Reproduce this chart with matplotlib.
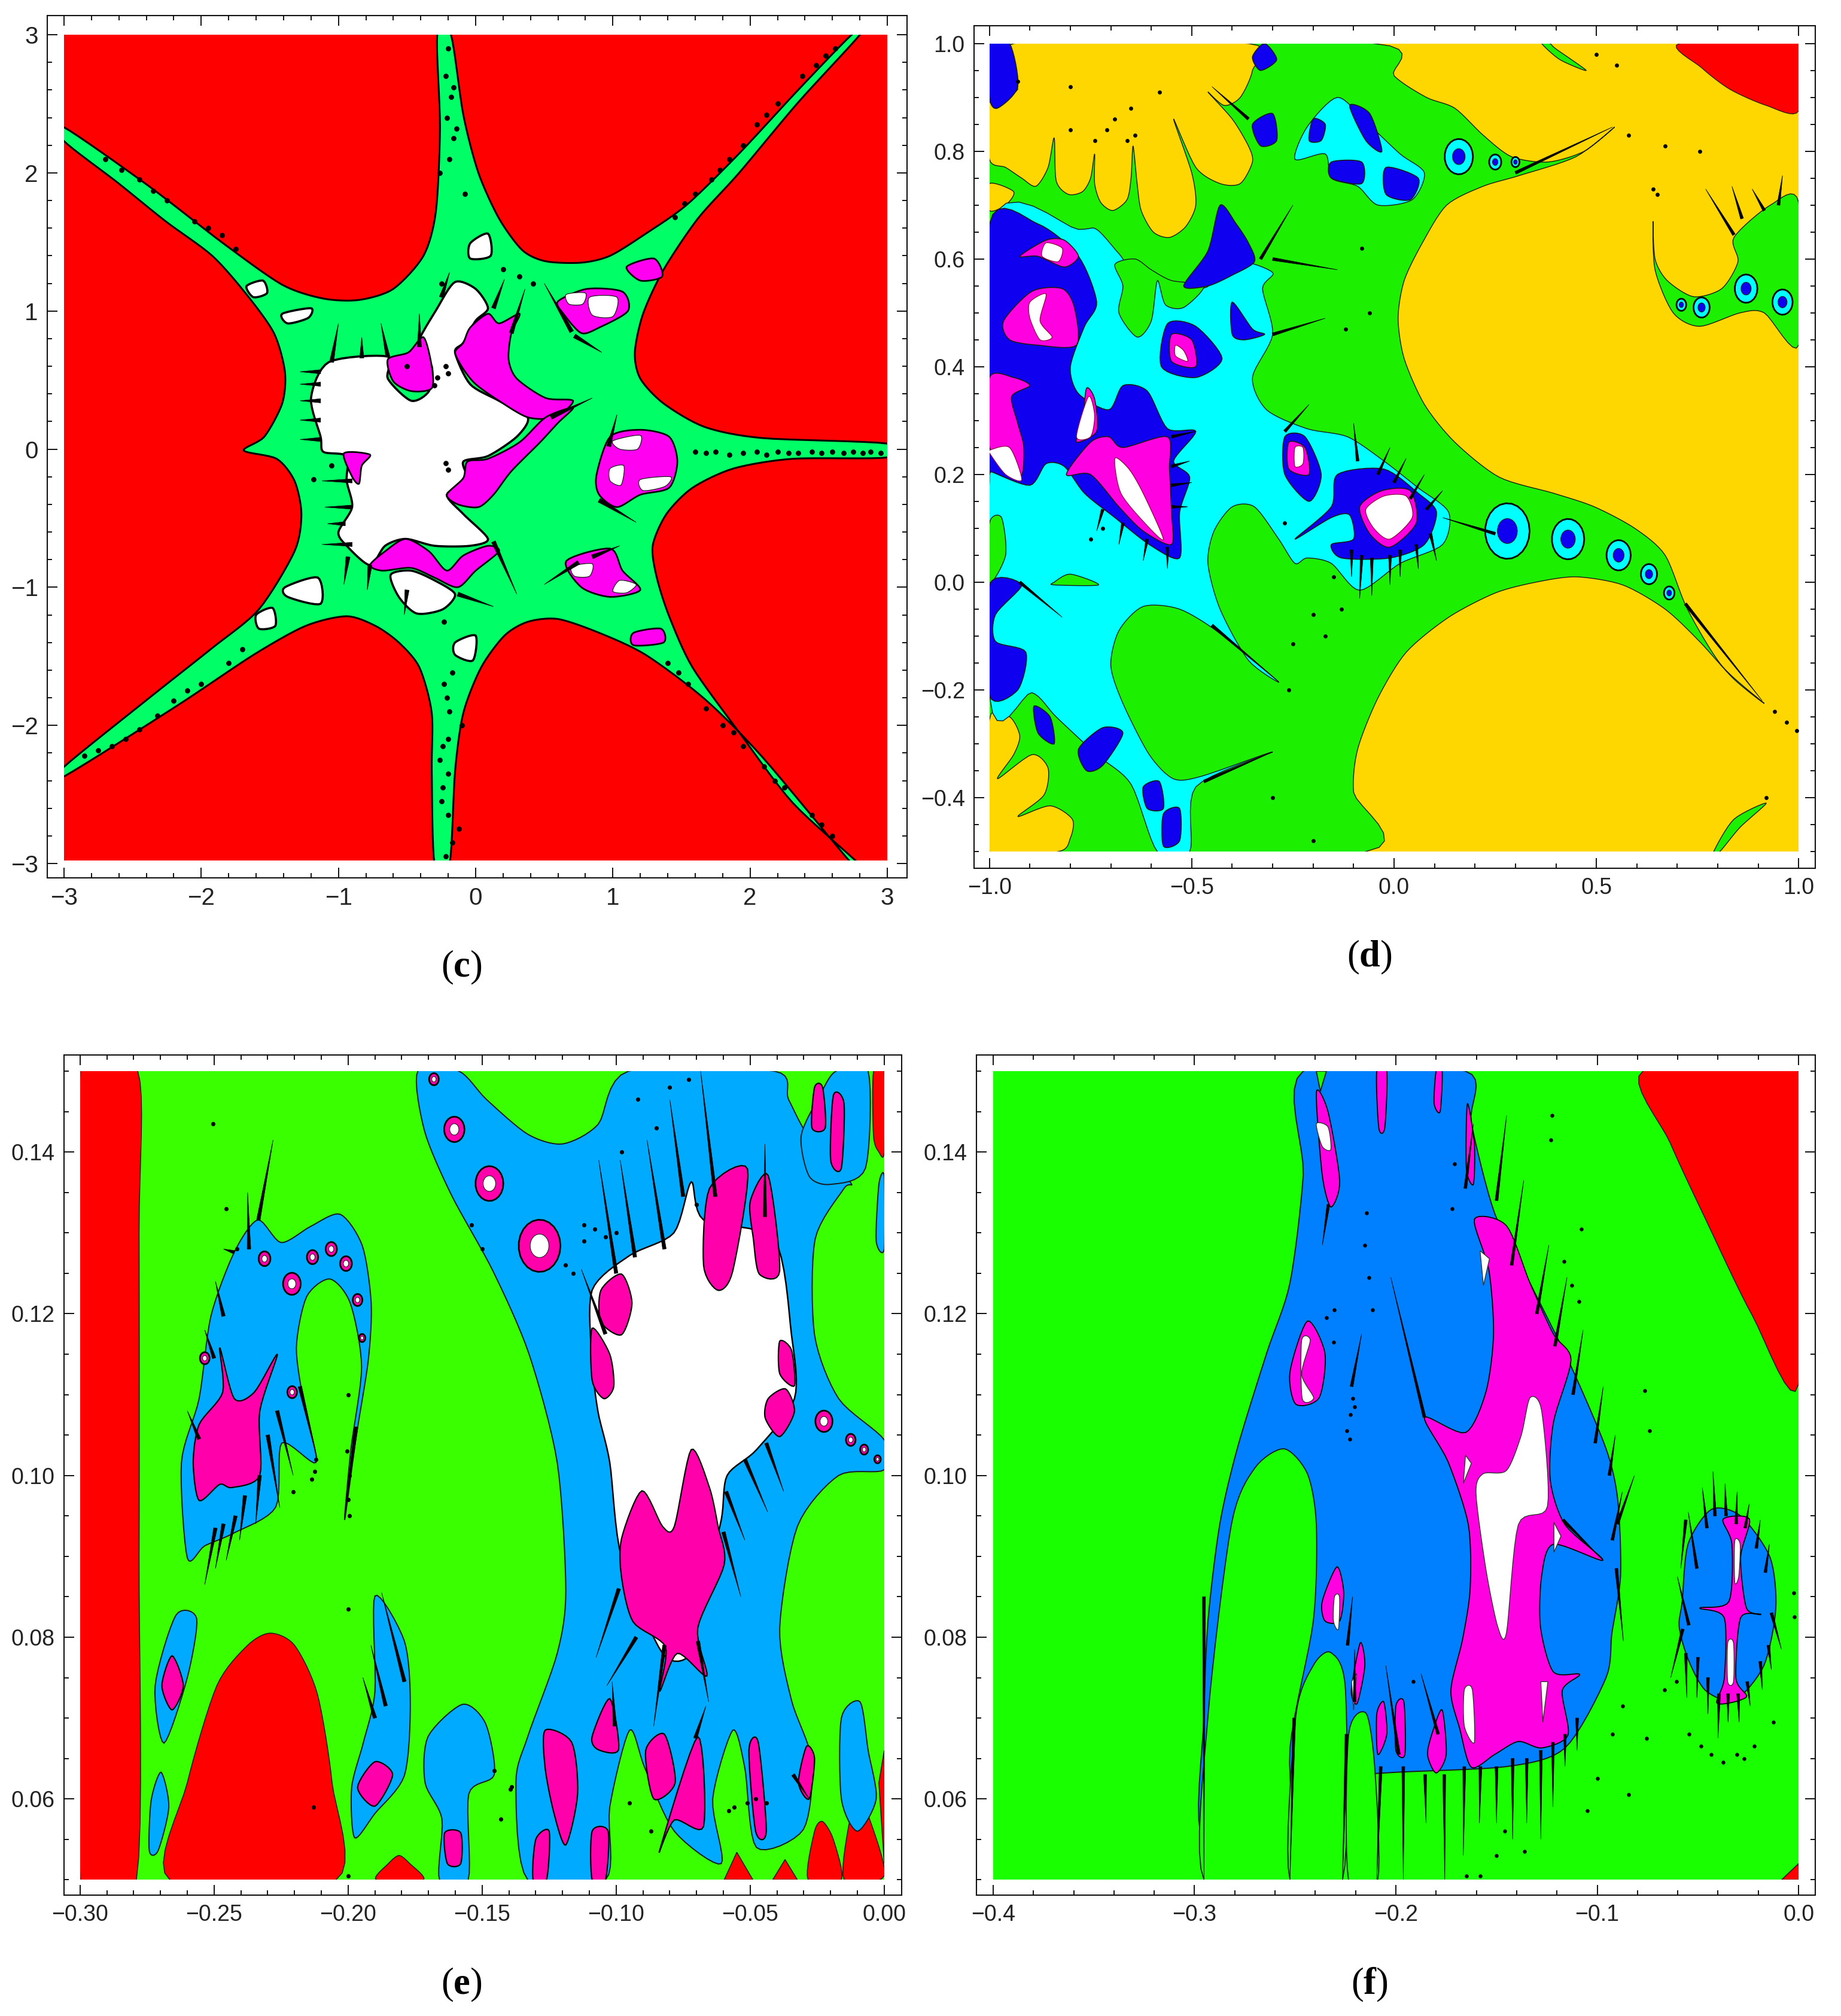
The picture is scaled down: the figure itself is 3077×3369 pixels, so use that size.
import numpy as np
import matplotlib
matplotlib.use("Agg")
import matplotlib.pyplot as plt
from matplotlib.ticker import MultipleLocator
from matplotlib.patches import Rectangle, Polygon

plt.rcParams['font.family'] = ['Liberation Sans', 'DejaVu Sans']
plt.rcParams['mathtext.fontset'] = 'custom'
plt.rcParams['mathtext.rm'] = 'Liberation Serif'
plt.rcParams['mathtext.bf'] = 'Liberation Serif:bold'

# ---------- panel (c) ----------
c_green = [(-.18,3),(-.09,2.42),(.02,2),(.17,1.67),(.34,1.44),(.51,1.36),(.77,1.35),(.98,1.4),(1.24,1.56),(1.54,1.77),(1.92,2.14),(2.35,2.6),(2.74,3),(2.8,3),
 (2.35,2.51),(1.92,2),(1.62,1.67),(1.37,1.3),(1.22,.98),(1.16,.7),(1.2,.51),(1.37,.33),(1.67,.16),(2.09,.08),(3,.04),(3,-.06),(2.31,-.07),(1.88,-.14),(1.58,-.28),(1.39,-.47),(1.29,-.7),(1.32,-.93),(1.41,-1.21),(1.58,-1.58),(1.92,-2.05),(2.31,-2.56),(2.79,-3),(2.74,-3),
 (2.09,-2.23),(1.67,-1.81),(1.24,-1.49),(.9,-1.33),(.6,-1.23),(.38,-1.25),(.21,-1.35),(.04,-1.58),(-.09,-1.91),(-.15,-2.33),(-.19,-3),(-.3,-3),(-.32,-2.33),(-.32,-1.91),(-.41,-1.58),(-.56,-1.4),(-.73,-1.28),(-.94,-1.21),(-1.24,-1.28),(-1.62,-1.49),(-2.18,-1.86),(-3,-2.37),(-3,-2.3),
 (-2.39,-1.81),(-1.92,-1.44),(-1.58,-1.16),(-1.32,-.74),(-1.27,-.47),(-1.32,-.23),(-1.45,-.07),(-1.69,-.01),(-1.54,.09),(-1.41,.33),(-1.39,.56),(-1.47,.84),(-1.67,1.12),(-1.92,1.4),(-2.26,1.65),(-2.61,1.93),(-3,2.23),(-3,2.33),(-2.39,1.91),(-1.84,1.49),(-1.41,1.19),(-1.11,1.09),(-.85,1.08),(-.6,1.16),(-.38,1.4),(-.29,1.72),(-.26,2.33),(-.28,3)]
c_white = [
 [(-1.07,.63),(-.64,.67),(-.64,.51),(-.47,.35),(-.34,.42),(-.32,.6),(-.43,.74),(-.28,1.02),(-.15,1.21),(0,1.16),(.09,1.02),(0,.93),(-.09,.77),(-.15,.7),(-.04,.47),(.17,.35),(.38,.23),(.3,.09),(.09,-.05),(-.09,-.09),(-.06,-.23),(-.21,-.33),(-.09,-.47),(.09,-.65),(-.04,-.7),(-.3,-.7),(-.51,-.65),(-.66,-.7),(-.77,-.84),(-.94,-.7),(-1,-.6),(-.9,-.42),(-.94,-.23),(-.94,-.05),(-1.11,-.02),(-1.13,.09),(-1.2,.37)],
 [(-.62,-.91),(-.47,-.88),(-.3,-.95),(-.15,-1.05),(-.24,-1.16),(-.43,-1.19),(-.56,-1.07)],
 [(-1.41,.98),(-1.2,1.02),(-1.22,.95),(-1.37,.91)],
 [(-1.39,-1),(-1.15,-.93),(-1.13,-1.12),(-1.37,-1.07)],
 [(-.04,1.49),(.09,1.56),(.11,1.4),(-.04,1.38)],
 [(-.15,-1.4),(0,-1.35),(-.02,-1.53),(-.15,-1.49)],
 [(-1.67,1.18),(-1.55,1.22),(-1.52,1.13),(-1.62,1.1)],
 [(-1.6,-1.2),(-1.48,-1.15),(-1.46,-1.28),(-1.58,-1.3)],
]
c_magenta = [
 [(-.64,.65),(-.49,.7),(-.38,.81),(-.32,.6),(-.32,.44),(-.47,.42),(-.6,.49)],
 [(.09,.98),(-.04,.88),(-.09,.77),(-.15,.7),(-.09,.58),(0,.47),(.17,.35),(.38,.23),(.58,.23),(.71,.35),(.51,.37),(.3,.51),(.24,.65),(.26,.84),(.32,.98),(.17,.91)],
 [(.71,.3),(.51,.23),(.32,.05),(.09,-.07),(-.06,-.09),(-.09,-.21),(-.21,-.33),(-.13,-.4),(.02,-.42),(.13,-.33),(.26,-.16),(.47,.05),(.6,.19)],
 [(-.66,-.74),(-.51,-.65),(-.34,-.74),(-.21,-.88),(-.09,-.77),(.09,-.7),(.17,-.74),(0,-.88),(-.13,-1),(-.3,-.93),(-.47,-.86),(-.68,-.88),(-.77,-.84)],
 [(-.96,-.03),(-.77,-.04),(-.83,-.12),(-.85,-.25),(-.9,-.2)],
 [(.98,.09),(1.2,.14),(1.41,.09),(1.47,-.09),(1.41,-.28),(1.2,-.33),(1.03,-.42),(.9,-.33),(.88,-.19)],
 [(.6,1.07),(.81,1.16),(1.07,1.14),(1.11,1),(.9,.88),(.77,.84),(.64,.98)],
 [(.66,-.81),(.98,-.72),(1.07,-.88),(1.2,-1.02),(.98,-1.07),(.77,-1)],
 [(1.1,1.32),(1.3,1.38),(1.36,1.25),(1.2,1.22)],
 [(1.15,-1.33),(1.35,-1.3),(1.37,-1.4),(1.15,-1.42)],
]
c_white_top = [
 [(1,.06),(1.2,.1),(1.18,0),(1.05,0)],[(.98,-.14),(1.08,-.12),(1.06,-.26),(.98,-.23)],[(1.2,-.22),(1.42,-.2),(1.38,-.27),(1.22,-.3)],
 [(.66,1.12),(.8,1.13),(.78,1.05),(.68,1.05)],[(.83,1.1),(1.03,1.1),(1,.96),(.85,.97)],
 [(.7,-.85),(.85,-.83),(.83,-.92),(.72,-.92)],[(1.05,-.95),(1.17,-.98),(1.1,-1.04),(1,-1.03)],
]
c_spikes = [(-1,.91,-1.05,.63),(-.83,.81,-.83,.66),(-.69,.91,-.64,.67),(-.41,.98,-.41,.74),(-.19,1.28,-.25,1.1),(.21,1.23,.13,1.02),(.36,1.16,.26,.84),
 (-1.28,.56,-1.13,.56),(-1.28,.47,-1.13,.47),(-1.28,.35,-1.13,.35),(-1.28,.21,-1.13,.21),(-1.28,.07,-1.13,.07),
 (-1.12,-.23,-.9,-.23),(-1.1,-.42,-.9,-.42),(-1.08,-.54,-.95,-.54),(-1.12,-.69,-.9,-.69),(-.96,-.98,-.93,-.78),(-.79,-1.02,-.77,-.84),(-.52,-1.2,-.5,-1.02),
 (.85,.37,.55,.23),(.3,-1.05,.13,-.67),(.13,-1.14,-.13,-1.05),(.5,1.2,.7,.85),(.92,.7,.72,.82),(1.03,.25,.97,.02),(1.17,-.53,.9,-.37),(.5,-.98,.75,-.82),(1.05,-.7,.85,-.78)]
c_dots_x = [-.2,-.22,-.18,-.21,-.16,-.19,-.08,-.22,-.12,-.25,-.2,-.24,-.19,-.23,-.21,-.14,-.26,-.16,-.24,-.1,-.2,-.26,-.17,
 1.6,1.68,1.75,1.85,1.95,2.05,2.12,2.2,2.28,2.35,2.45,2.52,2.6,2.68,2.75,2.82,2.88,2.95,
 1.45,1.52,1.6,1.72,1.78,1.85,1.95,2.05,2.12,2.2,2.38,2.48,2.55,2.62,
 1.4,1.48,1.55,1.68,1.8,1.88,1.95,2.1,2.18,2.25,2.45,2.52,2.6,
 -2.7,-2.58,-2.45,-2.35,-2.25,-2.05,-1.95,-1.85,-1.75,-2.45,-2.32,-2.2,-2.1,-2,-1.8,-1.7,-2.65,-2.55,-2.85,-2.75,
 -.25,-.2,-.22,-.28,-.3,.2,.32,.42,-.22,-.2,-1.05,-1.18,-.5,-.2,-.23,-.17]
c_dots_y = [2.9,2.7,2.55,2.4,2.25,2.1,1.85,-2.95,-2.75,-2.55,-2.35,-2.15,-1.9,-1.7,-1.8,2.32,2.0,2.62,-2.45,-2,-2.65,-2.25,-2.85,
 -.02,-.03,-.02,-.04,-.03,-.02,-.04,-.02,-.03,-.03,-.02,-.03,-.02,-.03,-.02,-.03,-.02,-.03,
 1.68,1.78,1.85,1.95,2.02,2.1,2.2,2.35,2.42,2.5,2.7,2.78,2.85,2.9,
 -1.55,-1.62,-1.7,-1.88,-2,-2.05,-2.15,-2.3,-2.4,-2.45,-2.65,-2.72,-2.8,
 2.1,2.02,1.95,1.87,1.8,1.65,1.6,1.55,1.45,-2.03,-1.93,-1.82,-1.75,-1.7,-1.55,-1.45,-2.15,-2.1,-2.22,-2.18,
 1.2,.55,.6,.52,.46,1.3,1.25,1.2,-.1,-.15,-.12,-.22,.6,-2.1,-1.25,-1.62]

# ---------- panel (d) ----------
d_red = [(.705,1),(.76,.955),(.83,.915),(.92,.885),(1,.875),(1,1)]
d_green = [(-.05,1),(0,.94),(.08,.9),(.15,.88),(.22,.83),(.29,.79),(.38,.78),(.47,.8),(.545,.845),(.45,.79),(.31,.755),(.22,.735),(.13,.7),(.07,.63),(.025,.56),(.01,.49),(.025,.415),(.075,.33),(.15,.26),(.26,.195),(.395,.165),(.495,.14),(.595,.1),(.67,.05),(.725,-.05),(.81,-.155),(.915,-.225),
 (.84,-.18),(.755,-.11),(.67,-.05),(.565,-.005),(.45,.01),(.35,0),(.25,-.02),(.135,-.065),(.03,-.13),(-.04,-.215),(-.09,-.31),(-.1,-.39),(-.07,-.5),(-1,-.5),(-1,1)]
d_yellow = [
 [(-1,.89),(-.93,.915),(-.94,1),(-.36,1),(-.35,.95),(-.38,.9),(-.42,.885),(-.46,.91),(-.4,.86),(-.36,.81),(-.35,.78),(-.38,.74),(-.43,.74),(-.49,.77),(-.545,.86),(-.5,.76),(-.49,.7),(-.515,.66),(-.555,.64),(-.595,.65),(-.625,.69),(-.635,.74),(-.645,.81),(-.65,.75),(-.66,.71),(-.695,.69),(-.725,.705),(-.74,.74),(-.74,.795),(-.75,.75),(-.77,.725),(-.805,.72),(-.835,.745),(-.84,.825),(-.855,.77),(-.885,.735),(-.92,.75),(-.96,.77),(-1,.785)],
 [(-1,.74),(-.94,.725),(-.96,.7),(-1,.69)],
 [(-1,-.255),(-.95,-.25),(-.925,-.285),(-.94,-.32),(-.98,-.365),(-.895,-.32),(-.855,-.345),(-.865,-.395),(-.93,-.435),(-.85,-.415),(-.795,-.44),(-.8,-.475),(-.83,-.5),(-1,-.5)],
]
d_green_right = [
 [(.64,.67),(.645,.58),(.69,.5),(.755,.475),(.855,.5),(.915,.5),(1,.44),(1,.705),(.93,.7),(.84,.64),(.85,.595),(.81,.545),(.74,.53),(.675,.56),(.645,.6)],
 [(.79,-.5),(.84,-.44),(.92,-.41),(.855,-.455),(.805,-.5)],
 [(.365,1),(.41,.97),(.475,.95),(.4,.99),(.385,1)],
]
d_cyan = [(-1,-.21),(-.895,-.205),(-.835,-.25),(-.735,-.32),(-.65,-.375),(-.585,-.5),(-.505,-.5),(-.49,-.38),(-.3,-.315),(-.475,-.36),(-.545,-.365),(-.605,-.32),(-.67,-.225),(-.7,-.155),(-.68,-.09),(-.62,-.045),(-.53,-.05),(-.43,-.095),(-.285,-.185),(-.36,-.145),(-.43,-.05),(-.46,.035),(-.445,.095),(-.4,.14),(-.345,.14),(-.285,.08),(-.245,.035),(-.215,.045),(-.155,.035),(-.085,-.015),(.015,.035),(.12,.07),(.135,.13),(.06,.175),(-.025,.225),(-.115,.27),(-.215,.285),(-.315,.32),(-.35,.38),(-.3,.46),(-.325,.545),(-.3,.575),(-.39,.595),(-.475,.545),(-.635,.575),(-.68,.61),(-.735,.655),(-.78,.655),(-1,.655)]
d_cyan2 = [(-.245,.785),(-.215,.845),(-.14,.9),(-.07,.855),(.015,.795),(.075,.76),(.045,.71),(-.04,.7),(-.09,.735),(-.155,.75),(-.17,.795)]
d_green_lobes = [
 [(-.69,.59),(-.64,.6),(-.6,.58),(-.55,.56),(-.47,.55),(-.52,.51),(-.565,.515),(-.585,.56),(-.6,.485),(-.635,.455),(-.68,.5),(-.67,.55)],
 [(-.84,0),(-.8,.015),(-.73,-.005),(-.84,-.005)],
 [(-1,.11),(-.97,.12),(-.96,.05),(-1,0)],
]
d_blue = [
 [(-1,.665),(-.88,.665),(-.78,.605),(-.735,.52),(-.765,.475),(-.8,.4),(-.78,.35),(-.705,.32),(-.67,.365),(-.61,.355),(-.56,.285),(-.49,.28),(-.545,.225),(-.505,.195),(-.53,.13),(-.53,.045),(-.605,.07),(-.69,.12),(-.765,.165),(-.815,.215),(-.86,.22),(-.9,.18),(-.995,.205),(-1,.205)],
 [(-1,-.005),(-.92,-.005),(-.985,-.06),(-.985,-.11),(-.91,-.13),(-.93,-.2),(-1,-.21)],
 [(-.245,.08),(-.155,.14),(-.14,.2),(-.025,.21),(.06,.165),(.105,.13),(.075,.07),(-.01,.045),(-.13,.045),(-.155,.07),(-.1,.08),(-.11,.125),(-.155,.12)],
 [(-.52,.55),(-.46,.615),(-.43,.7),(-.39,.665),(-.36,.63),(-.345,.595),(-.4,.57),(-.46,.55)],
 [(-.56,.48),(-.49,.475),(-.425,.415),(-.49,.38),(-.575,.4)],
 [(-.4,.52),(-.35,.47),(-.32,.46),(-.37,.45),(-.4,.46)],
 [(-.27,.27),(-.22,.27),(-.18,.2),(-.21,.15),(-.27,.2)],
 [(-.2,.86),(-.17,.85),(-.18,.82),(-.21,.82)],
 [(-.11,.885),(-.06,.87),(-.03,.8),(-.07,.82)],
 [(-.155,.78),(-.08,.78),(-.08,.74),(-.155,.75)],
 [(-.02,.77),(.06,.75),(.04,.71),(-.02,.72)],
 [(-.35,.975),(-.32,1),(-.29,.97),(-.33,.95)],
 [(-1,1),(-.95,1),(-.93,.92),(-.98,.88),(-1,.9)],
 [(-.89,-.23),(-.85,-.25),(-.84,-.3),(-.88,-.28)],
 [(-.78,-.31),(-.72,-.27),(-.67,-.28),(-.72,-.34),(-.76,-.35)],
 [(-.62,-.38),(-.58,-.37),(-.57,-.42),(-.61,-.42)],
 [(-.57,-.43),(-.53,-.42),(-.53,-.48),(-.57,-.49)],
 [(-.35,.85),(-.3,.87),(-.29,.82),(-.33,.81)],
]
d_magenta = [
 [(-.925,.605),(-.86,.635),(-.815,.635),(-.78,.605),(-.815,.585),(-.88,.605)],
 [(-.965,.485),(-.895,.54),(-.82,.545),(-.79,.51),(-.785,.44),(-.88,.44),(-.95,.45)],
 [(-1,.38),(-.94,.38),(-.9,.365),(-.945,.345),(-.93,.295),(-.915,.25),(-.925,.195),(-1,.25)],
 [(-.81,.2),(-.75,.26),(-.705,.27),(-.67,.25),(-.56,.27),(-.555,.21),(-.55,.13),(-.55,.07),(-.62,.095),(-.68,.14),(-.75,.2)],
 [(-.085,.14),(-.03,.17),(.04,.17),(.055,.11),(-.01,.065),(-.06,.09)],
 [(-.76,.36),(-.74,.34),(-.735,.28),(-.785,.26),(-.77,.3)],
 [(-.55,.46),(-.5,.45),(-.49,.4),(-.55,.41)],
 [(-.26,.26),(-.22,.25),(-.21,.2),(-.26,.21)],
]
d_white = [
 [(-.9,.52),(-.86,.535),(-.875,.485),(-.845,.455),(-.875,.45),(-.9,.49)],
 [(-1,.245),(-.95,.25),(-.92,.19),(-.96,.2),(-1,.24)],
 [(-.69,.23),(-.655,.21),(-.62,.165),(-.57,.08),(-.61,.105),(-.675,.165)],
 [(-.755,.345),(-.74,.31),(-.75,.27),(-.785,.27)],
 [(-.07,.135),(-.025,.16),(.03,.16),(.045,.12),(-.01,.08),(-.05,.1)],
 [(-.54,.44),(-.52,.43),(-.51,.41),(-.54,.42)],
 [(-.245,.25),(-.225,.25),(-.225,.22),(-.245,.215)],
 [(-.86,.63),(-.82,.62),(-.83,.595),(-.87,.605)],
]
d_sat_x = [.28,.43,.555,.63,.68,.16,.25,.71,.76,.87,.96,.3]
d_sat_y = [.095,.08,.05,.015,-.02,.79,.78,.515,.51,.545,.52,.78]
d_sat_r = [.055,.04,.03,.02,.013,.035,.015,.012,.02,.028,.025,.01]
d_spikes = [(-.105,.01,-.105,.06),(-.085,-.03,-.08,.05),(-.055,-.025,-.055,.045),(-.01,-.005,-.01,.05),(.015,.01,.015,.06),(.06,.025,.055,.07),(.105,.04,.09,.09),
 (-.01,.25,-.04,.2),(.03,.23,0,.185),(.075,.2,.04,.155),(.12,.17,.08,.135),(-.1,.295,-.09,.225),
 (-.735,.095,-.72,.135),(-.68,.07,-.67,.11),(-.62,.04,-.61,.08),(-.56,.025,-.56,.065),
 (-.49,.28,-.55,.27),(-.505,.225,-.55,.215),(-.5,.185,-.55,.18),(-.51,.14,-.55,.14),
 (-.82,-.065,-.925,0),(.77,.73,.84,.645),(.835,.735,.86,.675),(.885,.73,.915,.69),(.96,.755,.95,.7),(.91,-.22,.72,-.04),(.12,.12,.25,.09),(-.285,-.185,-.45,-.08),
 (-.3,-.315,-.47,-.37),(-.17,.49,-.3,.46),(-.14,.58,-.3,.6),(-.25,.7,-.33,.6),(-.21,.33,-.27,.28),(.54,.845,.3,.76),(-.45,.92,-.36,.86)]
d_dots_x = [.58,.67,.94,.97,.995,.92,.755,.64,.65,-.08,-.06,-.12,-.2,-.17,-.25,-.26,-.8,-.69,-.65,-.58,-.8,-.74,-.71,-.66,-.64,-.27,-.15,-.13,-.3,-.2,-.75,-.72,-.93,.5,.55]
d_dots_y = [.83,.81,-.24,-.26,-.275,-.4,.8,.73,.72,.62,.5,.47,-.06,-.1,-.115,-.2,.92,.86,.88,.91,.84,.82,.84,.82,.83,.11,.01,-.05,-.4,-.48,.08,.1,.93,.98,.96]

# ---------- panel (e) ----------
e_red = [
 [(-.3,.05),(-.279,.05),(-.278,.09),(-.278,.13),(-.2785,.15),(-.3,.15)],
 [(-.2665,.05),(-.26,.062),(-.249,.074),(-.2375,.079),(-.229,.0805),(-.22,.079),(-.2115,.073),(-.206,.062),(-.2045,.05)],
 [(-.1895,.05),(-.185,.052),(-.181,.053),(-.177,.052),(-.172,.05)],
 [(-.0597,.05),(-.055,.0534),(-.049,.05)],
 [(-.0416,.05),(-.037,.0525),(-.0324,.05)],
 [(-.0284,.05),(-.026,.056),(-.023,.0572),(-.019,.055),(-.016,.05)],
 [(-.015,.05),(-.0125,.058),(-.0095,.0597),(-.006,.058),(0,.0505)],
 [(0,.066),(-.002,.062),(0,.052)],
 [(0,.15),(-.004,.15),(-.004,.142),(-.002,.14),(0,.14)],
]
e_blue = [
 [(-.174,.15),(-.1715,.1426),(-.1615,.1347),(-.146,.1253),(-.1325,.115),(-.122,.1016),(-.1188,.0858),(-.122,.078),(-.133,.0677),(-.1374,.062),(-.133,.05),(-.104,.05),(-.1024,.059),(-.095,.0685),(-.0893,.0638),(-.0783,.056),(-.0608,.052),(-.064,.06),(-.0565,.0685),(-.052,.0638),(-.0477,.054),(-.0302,.0562),(-.027,.0647),(-.0346,.0722),(-.039,.0811),(-.0324,.0937),(-.017,.1),(0,.1007),(0,.1044),(-.017,.1095),(-.026,.1174),(-.0258,.1292),(-.015,.1355),(-.0127,.1363),(-.028,.1418),(-.0357,.1465),(-.041,.15),(-.0954,.15),(-.1068,.1434),(-.12,.141),(-.133,.1422),(-.1484,.1465),(-.1587,.15)],
 [(-.26,.0898),(-.2622,.1016),(-.2556,.1095),(-.2512,.1197),(-.2425,.1276),(-.2337,.1316),(-.225,.1288),(-.214,.1308),(-.203,.1323),(-.1947,.1284),(-.1914,.1213),(-.1925,.1142),(-.197,.1048),(-.2013,.0945),(-.199,.1032),(-.195,.1134),(-.1992,.1213),(-.2068,.1243),(-.2155,.1221),(-.2193,.1158),(-.2164,.1087),(-.212,.1016),(-.2248,.104),(-.227,.0961),(-.2425,.0929),(-.2535,.0913)],
 [(-.2687,.0669),(-.272,.074),(-.2643,.0827),(-.2565,.0823),(-.26,.075)],
 [(-.2742,.0536),(-.2735,.0598),(-.2698,.0633),(-.2669,.059),(-.2709,.0536)],
 [(-.1976,.0552),(-.1987,.0614),(-.1943,.067),(-.19,.0733),(-.19,.0851),(-.179,.0795),(-.1768,.0717),(-.179,.0629),(-.19,.0582)],
 [(-.1702,.0677),(-.1573,.0717),(-.1487,.0693),(-.1455,.063),(-.155,.0606),(-.1552,.05),(-.1659,.05),(-.165,.0575),(-.1713,.062)],
 [(-.016,.07),(-.009,.072),(-.006,.066),(-.003,.06),(-.01,.056),(-.016,.06)],
 [(-.031,.142),(-.024,.147),(-.018,.15),(-.006,.15),(-.007,.138),(-.02,.136),(-.028,.137)],
 [(-.002,.136),(0,.137),(0,.128),(-.003,.129)],
]
e_white = [[(-.109,.1229),(-.095,.1272),(-.0785,.13),(-.072,.1363),(-.0674,.1316),(-.0411,.1292),(-.0346,.1174),(-.0335,.1095),(-.0476,.1032),(-.0586,.1),(-.0608,.0945),(-.0674,.0858),(-.072,.078),(-.0827,.078),(-.098,.0898),(-.1024,.1016),(-.1068,.1079),(-.109,.1142)],
 [(-.2545,.104),(-.2518,.106),(-.2494,.1038),(-.2516,.101)],[(-.2425,.1033),(-.2396,.1068),(-.237,.1033),(-.2398,.0997)]]
e_magenta = [
 [(-.1057,.1229),(-.098,.1249),(-.0941,.1213),(-.098,.1174),(-.1057,.119)],
 [(-.109,.1182),(-.1024,.115),(-.1009,.111),(-.1046,.1095),(-.109,.1118)],
 [(-.0652,.1355),(-.051,.1379),(-.0565,.1253),(-.062,.1229),(-.0674,.126)],
 [(-.05,.1339),(-.0433,.1371),(-.039,.1253),(-.0466,.1249),(-.0488,.1292)],
 [(-.039,.1166),(-.0346,.1155),(-.0335,.1111),(-.039,.1126)],
 [(-.0433,.1095),(-.0368,.1107),(-.0335,.1079),(-.039,.1048),(-.0444,.1071)],
 [(-.098,.0922),(-.0904,.0981),(-.0827,.0937),(-.0783,.0937),(-.072,.1032),(-.0652,.0985),(-.062,.0937),(-.0597,.089),(-.0696,.0811),(-.0662,.0752),(-.0772,.078),(-.0838,.0733),(-.0816,.0788),(-.0937,.0819),(-.098,.0874)],
 [(-.2556,.1063),(-.2468,.1103),(-.2479,.1158),(-.2425,.1095),(-.235,.1103),(-.2264,.115),(-.233,.1079),(-.233,.1),(-.2434,.0985),(-.2479,.0989),(-.2556,.0969),(-.2578,.1016)],
 [(-.2657,.0777),(-.2615,.074),(-.2657,.071),(-.2695,.074)],
 [(-.1965,.0614),(-.19,.0646),(-.1834,.063),(-.19,.0591)],
 [(-.164,.0558),(-.158,.0558),(-.158,.052),(-.163,.052)],
 [(-.1265,.0685),(-.1166,.067),(-.1144,.0606),(-.1188,.0543),(-.1232,.0582),(-.1265,.0638)],
 [(-.109,.0677),(-.1024,.0724),(-.0991,.0661),(-.1068,.0661)],
 [(-.0696,.0677),(-.0674,.0566),(-.0783,.0574),(-.0838,.0536)],
 [(-.089,.066),(-.082,.068),(-.078,.062),(-.086,.06)],
 [(-.0505,.066),(-.047,.067),(-.044,.056),(-.048,.056)],
 [(-.13,.055),(-.125,.056),(-.126,.05),(-.131,.05)],
 [(-.109,.056),(-.103,.056),(-.104,.05),(-.109,.05)],
 [(-.029,.0665),(-.026,.065),(-.028,.06),(-.032,.062)],
 [(-.026,.148),(-.023,.148),(-.022,.143),(-.027,.143)],
 [(-.019,.147),(-.015,.146),(-.016,.138),(-.02,.139)],
]
e_sat_x = [-.2063,-.2133,-.2008,-.221,-.2312,-.1965,-.1948,-.2209,-.1604,-.1473,-.1286,-.168,-.0225,-.0125,-.0075,-.0025,-.2535]
e_sat_y = [.128,.127,.1262,.1237,.1268,.1217,.117,.1103,.1428,.1361,.1284,.149,.1067,.1044,.1032,.102,.1145]
e_sat_r = [.0021,.0021,.0022,.0033,.0022,.0018,.0012,.0018,.0038,.0052,.0078,.0018,.0032,.0018,.0015,.0012,.0018]
e_spikes = [(-.228,.1415,-.2335,.1316),(-.2375,.135,-.237,.128),(-.2465,.128,-.2425,.1276),(-.2495,.124,-.2465,.1197),(-.2535,.118,-.25,.1145),(-.26,.108,-.2556,.1045),
 (-.2535,.0865,-.2495,.0935),(-.2495,.0885,-.2465,.094),(-.2455,.0895,-.242,.095),(-.2405,.092,-.2385,.0975),(-.2345,.094,-.233,.1),(-.2255,.096,-.23,.105),(-.2205,.1,-.2265,.108),(-.2115,.102,-.218,.111),
 (-.1875,.0855,-.179,.0745),(-.1915,.079,-.186,.0715),(-.1945,.075,-.19,.07),(-.2015,.0945,-.197,.106),
 (-.113,.1255,-.104,.1175),(-.1065,.139,-.1,.125),(-.0985,.139,-.093,.127),(-.0885,.1415,-.082,.128),(-.08,.1465,-.075,.1345),(-.0685,.15,-.063,.1345),(-.0445,.141,-.0445,.132),
 (-.1075,.0775,-.099,.086),(-.1035,.074,-.0925,.08),(-.086,.069,-.082,.079),(-.0655,.072,-.0695,.0795),(-.0535,.085,-.06,.093),(-.052,.092,-.059,.098),(-.0435,.0955,-.052,.102),(-.0375,.098,-.044,.104),
 (-.1015,.0745,-.1005,.069),(-.0665,.0715,-.0705,.0675),(-.028,.06,-.034,.063)]
e_dots_x = [-.2505,-.2455,-.2415,-.2125,-.212,-.2205,-.2135,-.1995,-.2,-.1995,-.2005,-.2,-.2,-.213,-.2,-.139,-.1455,-.098,-.092,-.085,-.08,-.073,-.07,-.112,-.108,-.104,-.1,-.154,-.15,-.119,-.116,-.112,-.087,-.095,-.1395,-.143,-.051,-.048,-.044,-.058,-.056]
e_dots_y = [.1435,.133,.128,.1005,.102,.098,.0995,.095,.097,.1,.103,.11,.0835,.059,.0505,.0615,.0635,.14,.1465,.143,.148,.149,.1335,.131,.1305,.1295,.13,.131,.128,.126,.125,.129,.056,.0595,.0612,.0575,.0595,.06,.0595,.0585,.059]

# ---------- panel (f) ----------
f_red = [[(-.0773,.15),(-.0637,.1411),(-.0462,.1317),(-.023,.1198),(0,.1113),(0,.15)],[(-.0084,.05),(0,.052),(0,.05)]]
f_blue = [
 [(-.246,.15),(-.246,.1372),(-.2526,.1238),(-.2642,.1151),(-.2788,.1033),(-.2875,.0939),(-.2933,.082),(-.2953,.0702),(-.2953,.055),(-.25,.062),(-.2061,.0632),(-.145,.064),(-.116,.0663),(-.0956,.075),(-.0927,.0805),(-.0884,.0876),(-.0898,.097),(-.0956,.1033),(-.113,.1135),(-.1334,.1238),(-.1509,.1324),(-.1625,.1435),(-.1654,.15)],
 [(-.0578,.0844),(-.0549,.0915),(-.0433,.0958),(-.0288,.095),(-.0142,.0899),(-.0113,.0836),(-.0172,.0765),(-.0317,.0722),(-.0462,.0734),(-.0549,.0773),(-.0593,.0813)],
]
f_green_arch = [
 [(-.2953,.05),(-.2933,.0702),(-.2817,.0939),(-.2701,.1009),(-.2555,.1033),(-.2439,.1002),(-.2395,.0939),(-.241,.082),(-.2526,.0663),(-.2526,.05)],
 [(-.2526,.05),(-.2497,.0702),(-.241,.0765),(-.2323,.0781),(-.225,.0734),(-.2265,.05)],
 [(-.2235,.05),(-.2235,.0679),(-.2148,.0706),(-.2105,.0639),(-.209,.05)],
 [(-.2395,.15),(-.2345,.15),(-.2375,.1475)],
]
f_magenta = [
 [(-.161,.1317),(-.1451,.1309),(-.1334,.1238),(-.1218,.1175),(-.113,.1143),(-.1218,.1065),(-.1233,.0994),(-.116,.0939),(-.0971,.0895),(-.1218,.0915),(-.1276,.0876),(-.1282,.0813),(-.1218,.0757),(-.1087,.0754),(-.1174,.0734),(-.1145,.0679),(-.1276,.0663),(-.1392,.0671),(-.1509,.0655),(-.1625,.0639),(-.1683,.0687),(-.1727,.0734),(-.1669,.0797),(-.1631,.086),(-.164,.0939),(-.1741,.1017),(-.1858,.1072),(-.1654,.1053),(-.1552,.1104),(-.1515,.1175),(-.1538,.1254)],
 [(-.2395,.1474),(-.2337,.145),(-.2279,.1364),(-.2323,.1332),(-.2366,.1372)],
 [(-.2526,.1128),(-.2439,.1191),(-.2352,.1151),(-.2381,.1096),(-.2497,.1088)],
 [(-.2366,.0844),(-.2293,.0887),(-.2259,.0856),(-.2279,.082),(-.2352,.082)],
 [(-.2221,.0734),(-.2177,.0793),(-.2154,.0765),(-.2192,.0718)],
 [(-.1843,.0655),(-.1815,.0685),(-.177,.071),(-.175,.0655),(-.18,.0632)],
 [(-.2,.0715),(-.196,.072),(-.1955,.0655),(-.2,.066)],
 [(-.2095,.0705),(-.206,.072),(-.2045,.068),(-.209,.0655)],
 [(-.0375,.0946),(-.0244,.0946),(-.0288,.0899),(-.0259,.0836),(-.0186,.0828),(-.0288,.0824),(-.0311,.0749),(-.0259,.0726),(-.0404,.0718),(-.0369,.0749),(-.0369,.0824),(-.0491,.0836),(-.0346,.0844),(-.0331,.0915)],
 [(-.2095,.15),(-.2045,.15),(-.2055,.143),(-.2085,.143)],
 [(-.18,.15),(-.177,.15),(-.178,.145),(-.181,.146)],
 [(-.1645,.146),(-.161,.141),(-.1615,.136),(-.165,.138)],
]
f_white = [
 [(-.1334,.1096),(-.1276,.108),(-.1247,.0962),(-.1392,.0939),(-.1451,.0805),(-.1494,.0813),(-.1552,.0883),(-.1602,.0978),(-.1567,.1002),(-.1451,.1006),(-.1378,.1049)],
 [(-.2395,.1435),(-.2337,.1431),(-.2323,.1403),(-.2366,.1407)],
 [(-.2468,.1167),(-.2425,.1167),(-.2468,.1125),(-.2408,.1096),(-.2465,.1095)],
 [(-.0317,.0919),(-.029,.0915),(-.0297,.0875),(-.0317,.0868)],
 [(-.0352,.0793),(-.0323,.0793),(-.0323,.0745),(-.0352,.0745)],
 [(-.1582,.1278),(-.1535,.1268),(-.1565,.1235)],
 [(-.1654,.1025),(-.1625,.1015),(-.1665,.099)],
 [(-.1215,.0942),(-.118,.0925),(-.1215,.0905)],
 [(-.166,.0735),(-.162,.0735),(-.161,.067),(-.166,.069)],
 [(-.128,.0745),(-.1245,.0745),(-.127,.0695)],
 [(-.2305,.085),(-.228,.085),(-.2285,.081),(-.231,.082)],
 [(-.222,.0745),(-.2195,.0755),(-.221,.071)],
]
f_spikes = [(-.2953,.05,-.2953,.085),(-.2526,.05,-.2505,.07),(-.2265,.05,-.2245,.068),(-.2095,.05,-.2075,.064),(-.1963,.05,-.1963,.064),(-.185,.057,-.1855,.063),(-.1757,.05,-.176,.063),(-.1665,.053,-.166,.064),(-.1585,.057,-.158,.064),(-.15,.057,-.15,.064),(-.142,.055,-.142,.065),(-.135,.057,-.135,.065),(-.128,.055,-.128,.066),(-.122,.059,-.122,.067),(-.116,.064,-.116,.068),(-.11,.066,-.11,.07),
 (-.0971,.0895,-.117,.0945),(-.087,.0795,-.0905,.0885),(-.0875,.098,-.0925,.092),
 (-.1615,.1435,-.1655,.1355),(-.145,.1445,-.15,.134),(-.1365,.1365,-.1425,.126),(-.124,.1285,-.13,.12),(-.115,.1245,-.121,.116),(-.107,.118,-.112,.11),(-.097,.111,-.101,.104),(-.091,.105,-.094,.1),(-.0815,.1,-.09,.094),
 (-.2025,.1245,-.1858,.1072),(-.217,.1175,-.222,.111),(-.2215,.085,-.224,.079),(-.2205,.0785,-.2205,.072),(-.205,.0765,-.1985,.0655),(-.1875,.0755,-.179,.068),(-.2365,.1285,-.2335,.1335),
 (-.0602,.0875,-.0545,.0815),(-.0585,.0885,-.056,.0945),(-.0635,.075,-.0575,.081),(-.0555,.0725,-.056,.078),(-.0085,.0785,-.0135,.083),
 (-.0548,.0955,-.0505,.0885),(-.0478,.0985,-.0455,.0935),(-.0425,.1005,-.0415,.095),(-.0365,.099,-.036,.095),(-.0305,.098,-.031,.094),(-.0245,.0965,-.0265,.0935),(-.019,.0945,-.021,.091),(-.0145,.0915,-.0165,.088),
 (-.0505,.0725,-.05,.0775),(-.045,.0705,-.045,.075),(-.04,.0675,-.0395,.073),(-.035,.0695,-.035,.073),(-.0295,.0695,-.03,.073),(-.024,.0715,-.0255,.0745),(-.018,.0735,-.019,.077),(-.0135,.076,-.015,.079)]
f_dots_x = [-.2145,-.2155,-.2135,-.2115,-.2215,-.2225,-.2245,-.2305,-.2345,-.223,-.231,-.2205,-.1915,-.171,-.172,-.165,-.158,-.15,-.146,-.136,-.123,-.1225,-.1165,-.1125,-.109,-.108,-.0765,-.074,-.0665,-.0605,-.0545,-.0485,-.0435,-.0375,-.0305,-.027,-.022,-.0125,-.0025,-.002,-.0755,-.0845,-.0875,-.0925,-.1,-.105]
f_dots_y = [.1325,.1285,.1245,.1205,.1095,.1075,.1055,.1205,.1195,.1045,.1165,.1085,.0745,.1385,.133,.0505,.0505,.053,.056,.0535,.1415,.1445,.1265,.1235,.1215,.1305,.1105,.1055,.0735,.0745,.068,.0665,.0655,.0645,.0655,.065,.0665,.0695,.0855,.0825,.0675,.0605,.0715,.068,.0625,.0585]

# ---------- axes ----------
FIG_W, FIG_H = 3077, 3369
c_tick_x = [-3,-2,-1,0,1,2,3];  c_tick_y = [-3,-2,-1,0,1,2,3]
d_tick_x = [-1,-.5,0,.5,1];     d_tick_y = [-.4,-.2,0,.2,.4,.6,.8,1]
e_tick_x = [-.3,-.25,-.2,-.15,-.1,-.05,0]; e_tick_y = [.06,.08,.1,.12,.14]
f_tick_x = [-.4,-.3,-.2,-.1,0]; f_tick_y = [.06,.08,.1,.12,.14]

fig = plt.figure(figsize=(FIG_W/100, FIG_H/100), dpi=100, facecolor='white')

def make_axes(box, xlim, ylim, xt, yt, xminor, yminor, xfmt, yfmt, size):
    l, t, r, b = box
    ax = fig.add_axes([l/FIG_W, 1-b/FIG_H, (r-l)/FIG_W, (b-t)/FIG_H])
    ax.set_xlim(xlim); ax.set_ylim(ylim)
    ax.set_xticks(xt, [xfmt.format(v).replace('-', '\u2212') for v in xt])
    ax.set_yticks(yt, [yfmt.format(v).replace('-', '\u2212') for v in yt])
    ax.xaxis.set_minor_locator(MultipleLocator(xminor))
    ax.yaxis.set_minor_locator(MultipleLocator(yminor))
    ax.tick_params(which='both', direction='in', top=True, right=True, width=1.4, color='#111')
    ax.tick_params(which='major', length=12, labelsize=size, labelcolor='#222', pad=11)
    ax.tick_params(which='minor', length=6)
    for s in ax.spines.values():
        s.set_linewidth(1.5); s.set_color('#111')
    return ax

def smooth(pts, t=.4, n=8):
    p = np.array(pts, float)
    if len(p) < 4:
        return p
    out = []
    for i in range(len(p)):
        p0, p1, p2, p3 = p[i-1], p[i], p[(i+1) % len(p)], p[(i+2) % len(p)]
        m1, m2 = t*(p2-p0), t*(p3-p1)
        for u in np.linspace(0, 1, n, endpoint=False):
            out.append((2*u**3-3*u**2+1)*p1 + (u**3-2*u**2+u)*m1 + (-2*u**3+3*u**2)*p2 + (u**3-u**2)*m2)
    return np.array(out)

class Panel:
    def __init__(self, ax, dom, bg):
        self.ax = ax
        self.clip = Rectangle((dom[0], dom[2]), dom[1]-dom[0], dom[3]-dom[2], transform=ax.transData)
        ax.add_patch(Rectangle((dom[0], dom[2]), dom[1]-dom[0], dom[3]-dom[2], fc=bg, ec='none', zorder=1))
        self.z = 2
    def fill(self, shapes, color, lw=1.1, ec='#1a1a1a'):
        for s in shapes:
            q = smooth(s)
            art = self.ax.fill(q[:, 0], q[:, 1], fc=color, ec=ec, lw=lw, zorder=self.z)[0]
            art.set_clip_path(self.clip)
        self.z += 1
    def sats(self, xs, ys, rs, outer, inner):
        x0, x1 = self.ax.get_xlim(); y0, y1 = self.ax.get_ylim()
        bb = self.ax.get_window_extent()
        sx = bb.width/(x1-x0); sy = bb.height/(y1-y0)
        th = np.linspace(0, 2*np.pi, 24)
        for x, y, r in zip(xs, ys, rs):
            ry = r*1.25*(sx/sy)
            a = self.ax.fill(x+r*np.cos(th), y+ry*np.sin(th), fc=outer, ec='black', lw=2, zorder=self.z)[0]
            b = self.ax.fill(x+.45*r*np.cos(th), y+.45*ry*np.sin(th), fc=inner, ec='#222', lw=.8, zorder=self.z+.1)[0]
            a.set_clip_path(self.clip); b.set_clip_path(self.clip)
        self.z += 1
    def spikes(self, items, w=7):
        T = self.ax.transData
        for tx, ty, bx, by in items:
            a, b = T.transform([(tx, ty), (bx, by)])
            d = b-a
            nrm = np.array([-d[1], d[0]])/(np.hypot(*d)+1e-9)*w/2
            tri = T.inverted().transform([a, b+nrm, b-nrm])
            pg = Polygon(tri, closed=True, fc='black', ec='black', lw=.5, zorder=self.z)
            self.ax.add_patch(pg); pg.set_clip_path(self.clip)
        self.z += 1
    def dots(self, xs, ys, s=55):
        art = self.ax.scatter(xs, ys, s=s, c='black', lw=0, zorder=self.z)
        art.set_clip_path(self.clip)
        self.z += 1

# (c)
ax = make_axes((79, 26, 1516, 1467), (-3.122, 3.144), (-3.104, 3.139), c_tick_x, c_tick_y, .2, .2, '{:.0f}', '{:.0f}', 29)
p = Panel(ax, (-3, 3, -2.98, 3), '#FF0000')
p.fill([c_green], '#00FF66', lw=2.2, ec='black')
p.fill(c_white, 'white', lw=2.6, ec='black')
p.fill(c_magenta, '#FF00F0', lw=2, ec='black')
p.fill(c_white_top, 'white', lw=.9)
p.spikes(c_spikes, w=7)
p.dots(c_dots_x, c_dots_y, s=40)

# (d)
ax = make_axes((1628, 43, 3034, 1451), (-1.038, 1.041), (-.531, 1.033), d_tick_x, d_tick_y, .1, .05, '{:.1f}', '{:.1f}', 27)
p = Panel(ax, (-1, 1, -.5, 1), '#FFD700')
p.fill([d_red], '#FF0000', lw=.9)
p.fill([d_green], '#1CF000', lw=1)
p.fill(d_green_right, '#1CF000', lw=1)
p.fill(d_yellow, '#FFD700', lw=1)
p.fill([d_cyan, d_cyan2], '#00FFFF', lw=1)
p.fill(d_green_lobes, '#1CF000', lw=1)
p.fill(d_blue, '#1000F0', lw=1.2)
p.fill(d_magenta, '#FF00E0', lw=1.2)
p.fill(d_white, 'white', lw=.9, ec='#900040')
p.sats(d_sat_x, d_sat_y, d_sat_r, '#00FFFF', '#1000F0')
p.spikes(d_spikes, w=5)
p.dots(d_dots_x, d_dots_y, s=24)

# (e)
ax = make_axes((107, 1763, 1507, 3167), (-.306, .0065), (.0481, .152), e_tick_x, e_tick_y, .01, .005, '{:.2f}', '{:.2f}', 27)
p = Panel(ax, (-.3, 0, .05, .15), '#3AFF00')
p.fill(e_red, '#FF0000', lw=1.1)
p.fill(e_blue, '#00AAFF', lw=1.4)
p.fill(e_white, 'white', lw=1.8, ec='black')
p.fill(e_magenta, '#FF00AA', lw=1.6, ec='black')
p.sats(e_sat_x, e_sat_y, e_sat_r, '#FF00AA', 'white')
p.spikes(e_spikes, w=6)
p.dots(e_dots_x, e_dots_y, s=26)

# (f)
ax = make_axes((1632, 1763, 3034, 3167), (-.4083, .0083), (.0481, .152), f_tick_x, f_tick_y, .02, .005, '{:.1f}', '{:.2f}', 27)
p = Panel(ax, (-.4, 0, .05, .15), '#1AFF00')
p.fill(f_red, '#FF0000', lw=1.1)
p.fill(f_blue, '#0080FF', lw=1.4)
p.fill(f_green_arch, '#1AFF00', lw=1.3)
p.fill(f_magenta, '#FF00E0', lw=1.3, ec='black')
p.fill(f_white, 'white', lw=1, ec='#333')
p.spikes(f_spikes, w=5)
p.dots(f_dots_x, f_dots_y, s=22)

# panel captions
panel_labels = ['c', 'd', 'e', 'f']
label_px = [(771, 1617), (2289, 1600), (771, 3317), (2289, 3317)]
for lab, (x, y) in zip(panel_labels, label_px):
    fig.text(x/FIG_W, 1-y/FIG_H, r'$\mathrm{(}\mathbf{' + lab + r'}\mathrm{)}$', ha='center', va='center', fontsize=45, color='black')

fig.savefig('out.png', dpi=100)
